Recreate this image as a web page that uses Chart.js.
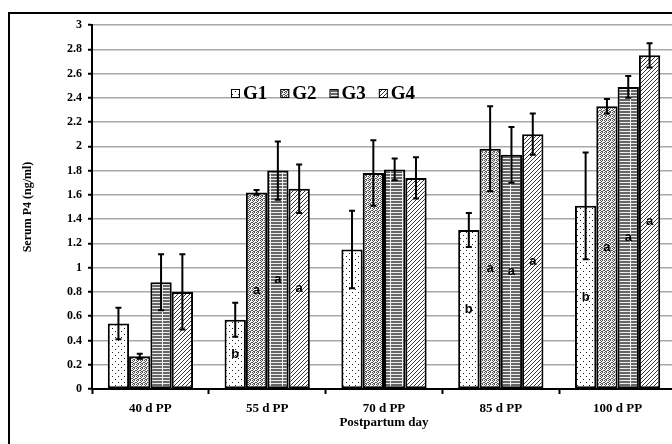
<!DOCTYPE html>
<html>
<head>
<meta charset="utf-8">
<script src="https://cdn.jsdelivr.net/npm/chart.js@4"></script>
<style>
html, body { margin: 0; padding: 0; background: #fff; overflow: hidden; }
#wrap { width: 672px; height: 444px; overflow: hidden; }
</style>
</head>
<body>
<div id="wrap"><canvas id="chart" width="684" height="444"></canvas></div>
<script>
// categories and groups
const days = ['40 d PP', '55 d PP', '70 d PP', '85 d PP', '100 d PP'];
const groups = ['G1', 'G2', 'G3', 'G4'];

// means (ng/ml)
const g1_mean = [0.54, 0.57, 1.15, 1.31, 1.51];
const g2_mean = [0.27, 1.62, 1.78, 1.98, 2.33];
const g3_mean = [0.88, 1.80, 1.81, 1.93, 2.49];
const g4_mean = [0.80, 1.65, 1.74, 2.10, 2.75];

// error bar half lengths
const g1_err = [0.13, 0.14, 0.32, 0.14, 0.44];
const g2_err = [0.02, 0.02, 0.27, 0.35, 0.06];
const g3_err = [0.23, 0.24, 0.09, 0.23, 0.09];
const g4_err = [0.31, 0.20, 0.17, 0.17, 0.10];

// significance letters
const g1_letter = ['', 'b', '', 'b', 'b'];
const g2_letter = ['', 'a', '', 'a', 'a'];
const g3_letter = ['', 'a', '', 'a', 'a'];
const g4_letter = ['', 'a', '', 'a', 'a'];

const y_ticks = ['0', '0.2', '0.4', '0.6', '0.8', '1', '1.2', '1.4', '1.6', '1.8',
                 '2', '2.2', '2.4', '2.6', '2.8', '3'];

const serif = "'Liberation Serif', 'Times New Roman', serif";
const ctx = document.getElementById('chart').getContext('2d');

function make_pattern(kind) {
    let c = document.createElement('canvas');
    let p = c.getContext('2d');
    if (kind === 'dots') {
        c.width = 6; c.height = 6;
        p.fillStyle = '#fff'; p.fillRect(0, 0, 6, 6);
        p.fillStyle = '#222';
        p.fillRect(1, 1, 1, 1); p.fillRect(4, 4, 1, 1);
    } else if (kind === 'stipple') {
        c.width = 4; c.height = 4;
        p.fillStyle = '#f2f2f2'; p.fillRect(0, 0, 4, 4);
        p.fillStyle = '#555';
        [[0, 0], [2, 0], [1, 1], [3, 2], [0, 2], [2, 3], [1, 3]].forEach(function (d) {
            p.fillRect(d[0], d[1], 1, 1);
        });
    } else if (kind === 'brick') {
        c.width = 12; c.height = 3;
        p.fillStyle = '#666'; p.fillRect(0, 0, 12, 3);
        p.fillStyle = '#eee';
        p.fillRect(0, 2, 12, 1);
        p.fillRect(6, 0, 1, 2);
    } else {
        c.width = 4; c.height = 4;
        p.fillStyle = '#fff'; p.fillRect(0, 0, 4, 4);
        p.strokeStyle = '#333'; p.lineWidth = 1;
        p.beginPath();
        p.moveTo(0, 4); p.lineTo(4, 0);
        p.moveTo(-1, 1); p.lineTo(1, -1);
        p.moveTo(3, 5); p.lineTo(5, 3);
        p.stroke();
    }
    return ctx.createPattern(c, 'repeat');
}

const fills = [make_pattern('dots'), make_pattern('stipple'), make_pattern('brick'), make_pattern('diag')];
const means = [g1_mean, g2_mean, g3_mean, g4_mean];
const errs = [g1_err, g2_err, g3_err, g4_err];
const letters = [g1_letter, g2_letter, g3_letter, g4_letter];

let data_set = [];
groups.forEach(function (g, i) {
    data_set.push({
        label: g,
        data: means[i],
        errors: errs[i],
        letters: letters[i],
        backgroundColor: fills[i],
        borderColor: '#000',
        borderWidth: 2,
        borderSkipped: false
    });
});

const frame_plugin = {
    id: 'frame',
    beforeDraw(chart) {
        let c = chart.ctx;
        c.save();
        c.fillStyle = '#fff';
        c.fillRect(0, 0, chart.width, chart.height);
        c.strokeStyle = '#000';
        c.lineWidth = 2;
        c.strokeRect(9, 13, chart.width + 20, chart.height + 20);
        c.restore();
    }
};

const marks_plugin = {
    id: 'marks',
    afterDatasetsDraw(chart) {
        let c = chart.ctx;
        let y = chart.scales.y;
        c.save();
        chart.data.datasets.forEach(function (ds, i) {
            chart.getDatasetMeta(i).data.forEach(function (bar, j) {
                // letters in the middle of the bar
                if (ds.letters[j]) {
                    c.fillStyle = '#000';
                    c.font = "bold 13px 'Liberation Sans', Arial, sans-serif";
                    c.textAlign = 'center';
                    c.textBaseline = 'middle';
                    c.fillText(ds.letters[j], bar.x, (bar.y + bar.base) / 2);
                }
                // error bars
                let top = y.getPixelForValue(ds.data[j] + ds.errors[j]);
                let bot = y.getPixelForValue(ds.data[j] - ds.errors[j]);
                c.strokeStyle = '#000';
                c.lineWidth = 2;
                c.beginPath();
                c.moveTo(bar.x, top); c.lineTo(bar.x, bot);
                c.moveTo(bar.x - 3, top); c.lineTo(bar.x + 3, top);
                c.moveTo(bar.x - 3, bot); c.lineTo(bar.x + 3, bot);
                c.stroke();
            });
        });
        c.restore();
    }
};

const legend_plugin = {
    id: 'legend_box',
    afterDraw(chart) {
        let c = chart.ctx;
        let x = 231, cy = 93;
        c.save();
        c.font = 'bold 19px ' + serif;
        c.textBaseline = 'middle';
        c.textAlign = 'left';
        groups.forEach(function (g, i) {
            c.fillStyle = fills[i];
            c.fillRect(x, cy - 4, 9, 9);
            c.strokeStyle = '#000';
            c.lineWidth = 1;
            c.strokeRect(x + 0.5, cy - 3.5, 8, 8);
            c.fillStyle = '#000';
            c.fillText(g, x + 12, cy + 1);
            x += 12 + c.measureText(g).width + 13;
        });
        c.restore();
    }
};

new Chart(ctx, {
    type: 'bar',
    data: { labels: days, datasets: data_set },
    plugins: [frame_plugin, marks_plugin, legend_plugin],
    options: {
        responsive: false,
        devicePixelRatio: 1,
        animation: false,
        layout: { padding: { top: 25, right: 8, left: 0, bottom: 0 } },
        datasets: { bar: { categoryPercentage: 0.73, barPercentage: 1 } },
        plugins: { legend: { display: false }, tooltip: { enabled: false } },
        scales: {
            x: {
                grid: { drawOnChartArea: false, tickLength: 5, tickColor: '#000', tickWidth: 2 },
                border: { color: '#000', width: 2 },
                ticks: { color: '#000', padding: 7, maxRotation: 0,
                         font: { family: serif, weight: 'bold', size: 13 } },
                title: { display: true, text: 'Postpartum day', color: '#000',
                         font: { family: serif, weight: 'bold', size: 13 },
                         padding: { top: 0, bottom: 14 } },
                afterFit: function (scale) { scale.height = 55; }
            },
            y: {
                min: 0,
                max: 3,
                grid: { color: '#a8a8a8', lineWidth: 1.5, tickLength: 4, tickColor: '#000', tickWidth: 2 },
                border: { color: '#000', width: 2 },
                ticks: { stepSize: 0.2, color: '#000', padding: 6,
                         font: { family: serif, weight: 'bold', size: 12 },
                         callback: function (v, i) { return y_ticks[i]; } },
                title: { display: true, text: 'Serum P4 (ng/ml)', color: '#000',
                         font: { family: serif, weight: 'bold', size: 12 },
                         padding: { top: 21, bottom: 0 } },
                afterFit: function (scale) { scale.width = 92; }
            }
        }
    }
});
</script>
</body>
</html>
